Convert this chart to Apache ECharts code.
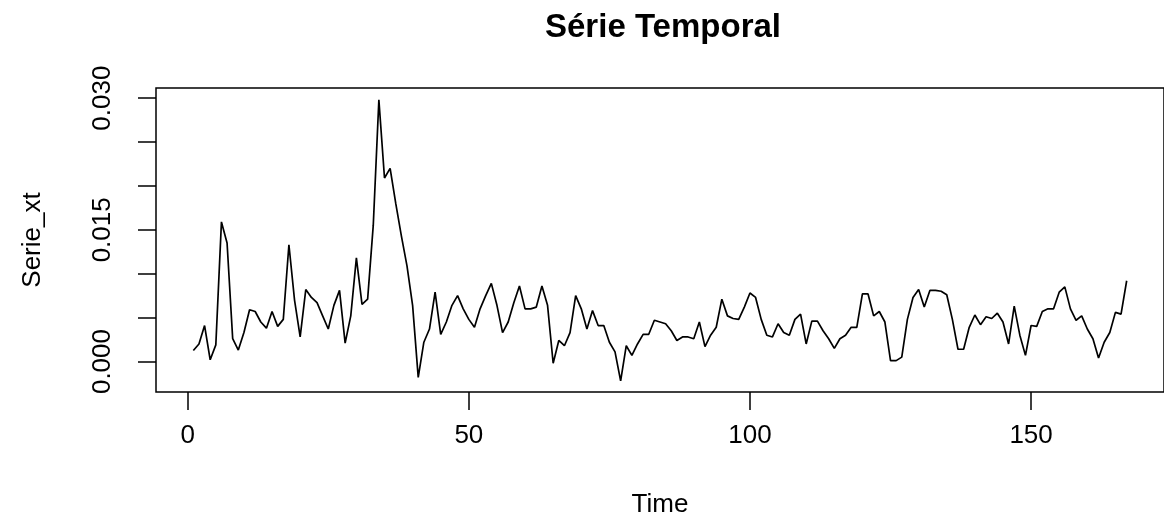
<!DOCTYPE html>
<html>
<head>
<meta charset="utf-8">
<script src="https://cdn.jsdelivr.net/npm/echarts@6/dist/echarts.min.js"></script>
<style>html,body{margin:0;padding:0;background:#fff;}#chart{width:1164px;height:523px;}</style>
</head>
<body>
<div id="chart"></div>
<script>
// Série temporal values (index 1..167)
var serieXt = [
  0.00125, 0.0020, 0.0041, 0.0002, 0.0019, 0.0159, 0.0135, 0.0026, 0.0013, 0.0033,
  0.0059, 0.0057, 0.0045, 0.0038, 0.0057, 0.0040, 0.0048, 0.0133, 0.0070, 0.0028,
  0.0082, 0.0073, 0.0067, 0.0052, 0.0037, 0.0064, 0.0081, 0.0021, 0.0052, 0.0118,
  0.0065, 0.0071, 0.0155, 0.0298, 0.0209, 0.0220, 0.0180, 0.0143, 0.0109, 0.0064,
  -0.0018, 0.0022, 0.0037, 0.0079, 0.0031, 0.0045, 0.0064, 0.0075, 0.0060, 0.0048,
  0.0039, 0.0060, 0.0075, 0.0089, 0.0064, 0.0033, 0.0045, 0.0067, 0.0086, 0.0060,
  0.0060, 0.0062, 0.0086, 0.0064, -0.0002, 0.0024, 0.0018, 0.0033, 0.0075, 0.0060,
  0.0037, 0.0058, 0.0041, 0.0041, 0.0022, 0.0011, -0.0022, 0.0018, 0.0007, 0.0020,
  0.0031, 0.0031, 0.0047, 0.0045, 0.0043, 0.0035, 0.0024, 0.0028, 0.0028, 0.0026,
  0.0045, 0.0017, 0.0030, 0.0039, 0.0071, 0.0052, 0.0049, 0.0048, 0.0062, 0.0078,
  0.0073, 0.0048, 0.0030, 0.0028, 0.0043, 0.0033, 0.0030, 0.0048, 0.0054, 0.0020,
  0.0046, 0.0046, 0.0035, 0.0026, 0.0015, 0.0026, 0.0030, 0.0039, 0.0039, 0.0077,
  0.0077, 0.0052, 0.0057, 0.0045, 0.0001, 0.0001, 0.0005, 0.0048, 0.0073, 0.0082,
  0.0062, 0.0081, 0.0081, 0.0080, 0.0076, 0.0048, 0.0014, 0.0014, 0.0039, 0.0053,
  0.0042, 0.0051, 0.0049, 0.0055, 0.0045, 0.0020, 0.0063, 0.0030, 0.0007, 0.0041,
  0.0040, 0.0057, 0.0060, 0.0060, 0.0079, 0.0085, 0.0060, 0.0047, 0.0052, 0.0037,
  0.0026, 0.0004, 0.0022, 0.0033, 0.0056, 0.0054, 0.0092
];
var xTicks = [0, 50, 100, 150];
var yTicks = [0, 0.005, 0.010, 0.015, 0.020, 0.025, 0.030];
var yLabels = [0, 0.015, 0.030];
var titleText = 'Série Temporal';
var xName = 'Time';
var yName = 'Serie_xt';

var points = serieXt.map(function (v, i) { return [i + 1, v]; });
var FONT = "'Liberation Sans', Arial, sans-serif";

var chart = echarts.init(document.getElementById('chart'), null, {renderer: 'canvas'});
chart.setOption({
  animation: false,
  backgroundColor: '#fff',
  title: {
    text: titleText,
    left: 663, top: 11, padding: 0,
    textAlign: 'center',
    textStyle: {fontFamily: FONT, fontSize: 33, fontWeight: 'bold', color: '#000'}
  },
  grid: {
    left: 156, top: 88, width: 1014, height: 305,
    show: true, borderColor: '#000', borderWidth: 1.5, backgroundColor: 'transparent',
    containLabel: false
  },
  xAxis: {
    type: 'value', min: -5.64, max: 173.64,
    name: xName, nameLocation: 'middle', nameGap: 100,
    nameTextStyle: {fontFamily: FONT, fontSize: 26, color: '#000'},
    axisLine: {show: false, onZero: false},
    axisTick: {show: true, inside: false, length: 18, customValues: xTicks, lineStyle: {color: '#000', width: 1.5}},
    axisLabel: {show: true, margin: 31, customValues: xTicks, fontFamily: FONT, fontSize: 26, color: '#000'},
    splitLine: {show: false}
  },
  yAxis: {
    type: 'value', min: -0.00347, max: 0.03115,
    name: yName, nameLocation: 'middle', nameGap: 110, nameRotate: 90,
    nameTextStyle: {fontFamily: FONT, fontSize: 26, color: '#000'},
    axisLine: {show: false, onZero: false},
    axisTick: {show: true, inside: false, length: 18, customValues: yTicks, lineStyle: {color: '#000', width: 1.5}},
    axisLabel: {
      show: true, margin: 40, rotate: 90, customValues: yLabels,
      fontFamily: FONT, fontSize: 26, color: '#000',
      formatter: function (v) { return v.toFixed(3); }
    },
    splitLine: {show: false}
  },
  series: [{
    type: 'line',
    data: points,
    showSymbol: false,
    symbol: 'none',
    lineStyle: {color: '#000', width: 1.7},
    clip: true
  }]
});
</script>
</body>
</html>
